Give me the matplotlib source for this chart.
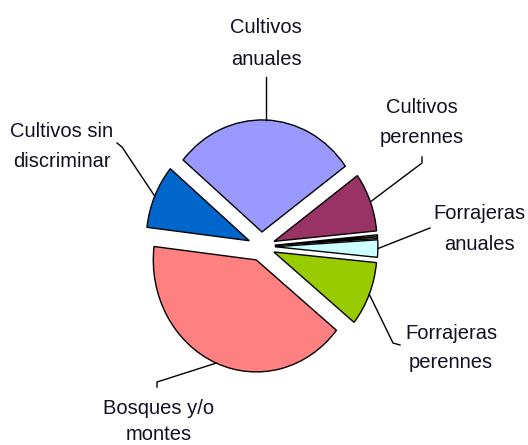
import numpy as np
import matplotlib
matplotlib.use("Agg")
import matplotlib.pyplot as plt

# ---- data (percent shares, clockwise from start angle) ----
categories = ["Cultivos anuales", "Cultivos perennes", "", "", "Forrajeras anuales",
              "Forrajeras perennes", "Bosques y/o montes", "Cultivos sin discriminar"]
values = [28.9, 8.5, 0.25, 0.25, 2.5, 9.3, 41.1, 9.2]
colors = ["#9999FF", "#993366", "#FFFFCC", "#FFFFFF", "#CCFFFF",
          "#99CC00", "#FF8080", "#0066CC"]
label_lines = {
    0: ["Cultivos", "anuales"],
    1: ["Cultivos", "perennes"],
    4: ["Forrajeras", "anuales"],
    5: ["Forrajeras", "perennes"],
    6: ["Bosques y/o", "montes"],
    7: ["Cultivos sin", "discriminar"],
}

# ---- layout (pixels from top-left of 528x445 canvas) ----
W, H = 528, 445
CX, CY = 261.5, 246.5        # pie centre
SX, SY = 103.0, 112.0        # pixels per unit radius (x, y)

def px(x, y):
    return ((x - CX) / SX, (CY - y) / SY)

# label text anchor (centre x, first baseline y, line gap) and leader elbows
label_pos = {
    0: (266, 33, 32, [(None, 77)]),
    1: (422, 113, 30, [(422, 163), (422, 157)]),
    4: (479, 219, 31, [(430, 228)]),
    5: (451, 339, 29, [(393, 343), (400, 345)]),
    6: (159, 414, 26, [(157, 382), (157, 387)]),
    7: (62, 137, 30, [(122, 147), (117, 143)]),
}

fig = plt.figure(figsize=(W / 100, H / 100), dpi=100)
ax = fig.add_axes([0, 0, 1, 1])

wedges, _ = ax.pie(values, colors=colors, startangle=140, counterclock=False,
                   explode=[0.13] * len(values), radius=1.0,
                   wedgeprops=dict(edgecolor="black", linewidth=1.0))

for i, (tx, ty, gap, elbows) in label_pos.items():
    w = wedges[i]
    a = np.deg2rad((w.theta1 + w.theta2) / 2)
    ax0 = w.center[0] + w.r * np.cos(a)
    ay0 = w.center[1] + w.r * np.sin(a)
    xs, ys = [ax0], [ay0]
    for ex, ey in elbows:
        if ex is None:
            xs.append(ax0)
            ys.append(px(0, ey)[1])
        else:
            p = px(ex, ey)
            xs.append(p[0]); ys.append(p[1])
    ax.plot(xs, ys, color="black", linewidth=1.0)
    for k, line in enumerate(label_lines[i]):
        p = px(tx, ty + k * gap)
        ax.text(p[0], p[1], line, ha="center", va="baseline",
                fontsize=14.5, family=["Liberation Sans", "DejaVu Sans"],
                color="#111122")

ax.set_aspect("auto")
ax.set_xlim(-CX / SX, (W - CX) / SX)
ax.set_ylim(-(H - CY) / SY, CY / SY)
ax.axis("off")
fig.savefig("out.png", dpi=100, facecolor="white")
